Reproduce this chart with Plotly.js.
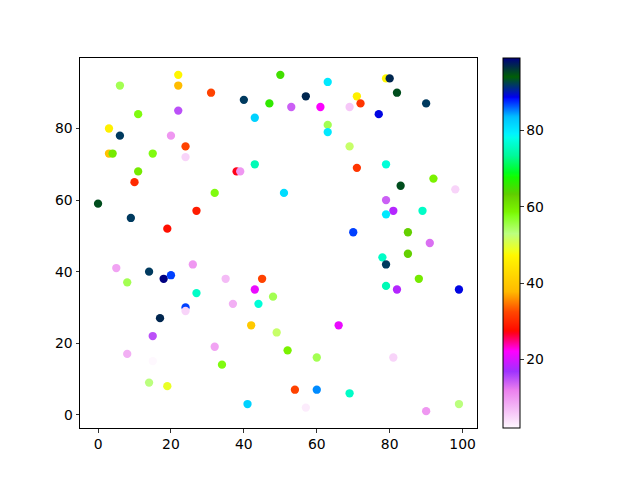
<!DOCTYPE html>
<html><head><meta charset="utf-8">
<script src="https://cdn.plot.ly/plotly-3.0.1.min.js"></script>
<style>html,body{margin:0;padding:0;background:#fff}#chart{width:640px;height:480px}</style>
</head><body><div id="chart"></div>
<script>
const xs = [22,22,6,31,11,22,3,6,20,24,24,3,4,15,11,10,50,40,47,53,57,61,63,63,63,43,43,38,39,79,80,82,90,71,72,69,77,69,71,79,92,83,98,0,9,27,19,5,8,14,18,20,26,27,24,32,51,35,45,43,48,37,44,79,81,79,89,70,85,91,78,79,85,88,79,82,99,24,17,15,8,15,14,19,42,49,32,52,60,34,54,60,41,57,66,81,69,90,99];
const ys = [95,92,92,90,84,85,80,78,78,75,72,73,73,73,68,65,95,88,87,86,89,86,93,81,79,83,70,68,68,94,94,90,87,89,87,86,84,75,69,70,66,64,63,59,55,57,52,41,37,40,38,39,42,34,30,62,62,38,38,35,33,31,31,60,57,56,57,51,51,48,44,42,45,38,36,35,35,29,27,22,17,15,9,8,25,23,19,18,16,14,7,7,3,2,25,16,6,1,3];
const cs = [47,38,55,32,58,15,46,92,10,32,5,39,60,58,60,30,65,92,66,14,97,22,80,55,80,82,75,27,10,47,97,95,92,46,31,6,89,52,31,77,59,95,5,95,92,29,28,9,55,92,99,87,10,76,87,58,81,7,32,21,55,8,77,14,18,80,76,87,63,13,76,92,63,60,75,18,89,5,97,15,8,2,53,49,40,52,9,59,55,58,32,85,82,3,21,5,76,10,53];

// matplotlib gist_ncar segment data
const ncar = {
  r: [[0,0],[0.3098,0],[0.3725,0.3993],[0.4235,0.5003],[0.5333,1],[0.7922,1],[0.8471,0.6218],[0.898,0.9235],[1,0.9961]],
  g: [[0,0],[0.051,0.3722],[0.1059,0],[0.1569,0.7202],[0.1608,0.7537],[0.1647,0.7752],[0.2157,1],[0.2588,0.9804],[0.2706,0.9804],[0.3176,1],[0.3686,0.8081],[0.4275,1],[0.5216,1],[0.6314,0.7292],[0.6863,0.2796],[0.7451,0],[0.7922,0],[0.8431,0.1753],[0.898,0.5],[1,0.9725]],
  b: [[0,0.502],[0.051,0.0222],[0.1098,1],[0.2039,1],[0.2627,0.6145],[0.3216,0],[0.4157,0],[0.4745,0.498],[0.5333,0],[0.7373,0],[0.7922,1],[0.8431,1],[0.898,0.9341],[1,0.9961]]
};
function interp(seg, t){
  for(let i=1;i<seg.length;i++){
    if(t<=seg[i][0]){const a=seg[i-1],b=seg[i];const f=(t-a[0])/(b[0]-a[0]||1);return a[1]+f*(b[1]-a[1]);}
  }
  return seg[seg.length-1][1];
}
const pts = new Set();
[ncar.r,ncar.g,ncar.b].forEach(s=>s.forEach(p=>pts.add(p[0])));
const tlist = Array.from(pts).sort((a,b)=>a-b);
const colorscale = tlist.map(t=>{
  const r=Math.round(255*interp(ncar.r,t)),g=Math.round(255*interp(ncar.g,t)),b=Math.round(255*interp(ncar.b,t));
  return [1-t,`rgb(${r},${g},${b})`];
}).reverse();
colorscale[0][0]=0; colorscale[colorscale.length-1][0]=1;

const font = {family:'DejaVu Sans', size:13.9, color:'#000'};
const trace = {
  type:'scatter', mode:'markers', x:xs, y:ys,
  marker:{size:8.3, color:cs, colorscale:colorscale, line:{width:0},
    colorbar:{x:1.0655, xanchor:'left', xref:'paper', y:0.5, yanchor:'middle', len:1, lenmode:'fraction',
      thickness:17, xpad:0, ypad:0, outlinewidth:1, outlinecolor:'#000',
      ticks:'outside', ticklen:3.5, tickwidth:0.8, tickcolor:'#000', tick0:0, dtick:20, tickfont:font}
  },
  hoverinfo:'none', showlegend:false
};
const axis = {showgrid:false, zeroline:false, showline:true, mirror:true, linecolor:'#000', linewidth:1,
  ticks:'outside', ticklen:3.5, tickwidth:0.8, tickcolor:'#000', tickfont:font};
const layout = {
  width:640, height:480, margin:{l:80, r:163, t:58, b:52.4},
  paper_bgcolor:'#fff', plot_bgcolor:'#fff', font:font,
  xaxis:Object.assign({range:[-4.95,103.95], tick0:0, dtick:20}, axis),
  yaxis:Object.assign({range:[-3.7,99.7], tick0:0, dtick:20}, axis)
};
Plotly.newPlot('chart',[trace],layout,{staticPlot:true, displayModeBar:false});
</script></body></html>
